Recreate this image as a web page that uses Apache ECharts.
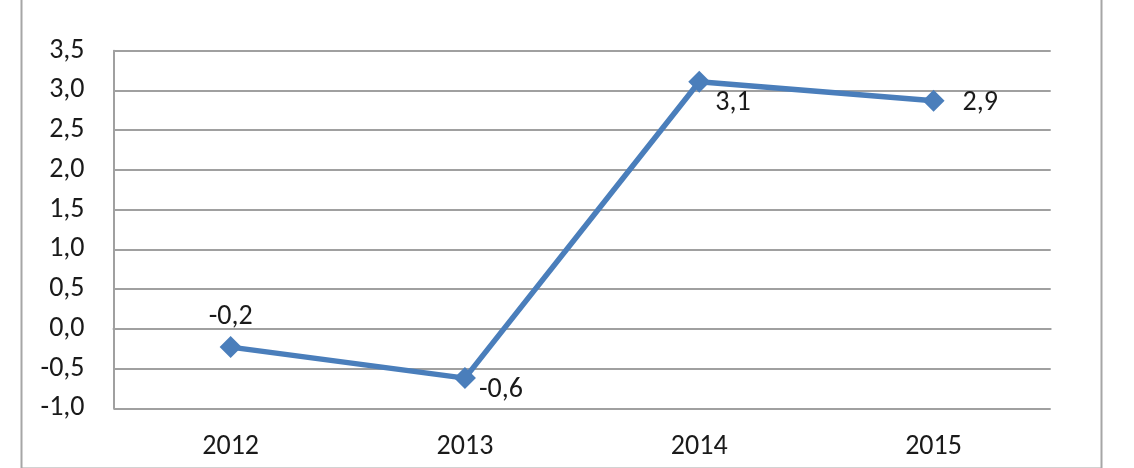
<!DOCTYPE html>
<html>
<head>
<meta charset="utf-8">
<script src="https://cdn.jsdelivr.net/npm/echarts@6/dist/echarts.min.js"></script>
<style>html,body{margin:0;padding:0;background:#fff}#c{width:1134px;height:468px}</style>
</head>
<body>
<div id="c"></div>
<script>
var categories = ['2012', '2013', '2014', '2015'];
var values = [-0.23, -0.62, 3.11, 2.87];
var labelTexts = ['-0,2', '-0,6', '3,1', '2,9'];

var FONT = "Carlito, 'Open Sans', sans-serif";
var labelStyles = [
  {position: 'top', distance: 5, offset: [0, 0]},
  {position: 'right', distance: 3, offset: [0, 12]},
  {position: 'right', distance: 5, offset: [0, 21]},
  {position: 'right', distance: 18, offset: [0, 2]}
];
var seriesData = values.map(function (v, i) {
  return {
    value: v,
    label: Object.assign({show: true, formatter: labelTexts[i]}, labelStyles[i])
  };
});

var chart = echarts.init(document.getElementById('c'));
chart.setOption({
  animation: false,
  backgroundColor: '#fff',
  graphic: [{
    type: 'rect', left: 19, top: -10, z: -1,
    shape: {width: 1080, height: 476},
    style: {fill: 'none', stroke: '#a6a6a6', lineWidth: 2}
  }],
  grid: {left: 113.5, right: 83.3, top: 50.7, bottom: 59.7},
  xAxis: {
    type: 'category',
    data: categories,
    boundaryGap: true,
    axisLine: {lineStyle: {color: '#a0a0a0', width: 2}},
    axisTick: {show: false},
    axisLabel: {color: '#1a1a1a', fontFamily: FONT, fontSize: 28, margin: 25}
  },
  yAxis: {
    type: 'value',
    min: -1, max: 3.5, interval: 0.5,
    axisLine: {show: true, lineStyle: {color: '#a0a0a0', width: 2}},
    axisTick: {show: false},
    splitLine: {lineStyle: {color: '#a0a0a0', width: 2}},
    axisLabel: {
      color: '#1a1a1a', fontFamily: FONT, fontSize: 28, margin: 29,
      formatter: function (v) { return v.toFixed(1).replace('.', ','); }
    }
  },
  series: [{
    type: 'line',
    data: seriesData,
    symbol: 'diamond',
    symbolSize: 22,
    lineStyle: {color: '#4a7ebb', width: 5.5},
    itemStyle: {color: '#4a7ebb'},
    label: {color: '#1a1a1a', fontFamily: FONT, fontSize: 28}
  }]
});
</script>
</body>
</html>
